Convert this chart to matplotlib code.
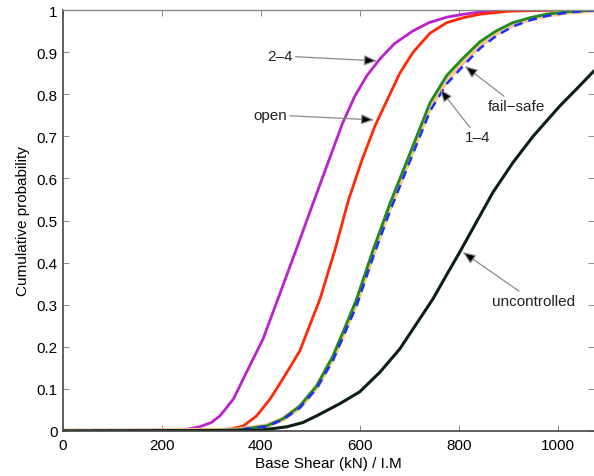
import numpy as np
import matplotlib
matplotlib.use('Agg')
import matplotlib.pyplot as plt

plt.rcParams['font.family'] = ['Liberation Sans', 'DejaVu Sans']

# curvas: x = base shear (kN) / I.M, p = probabilidad acumulada
x_24 = [0, 100, 200, 250, 277, 300, 318, 345, 378, 405, 435, 470, 509, 540, 565, 590, 615, 641,
        670, 707, 740, 776, 810, 843, 900, 1000, 1080]
p_24 = [0, 0.001, 0.002, 0.004, 0.01, 0.02, 0.036, 0.076, 0.155, 0.219, 0.314, 0.425, 0.551,
        0.65, 0.73, 0.795, 0.845, 0.884, 0.92, 0.95, 0.97, 0.983, 0.99, 0.995, 0.999, 1, 1]

x_open = [0, 200, 300, 340, 365, 392, 419, 445, 479, 520, 550, 578, 605, 631, 661, 681, 708,
          742, 776, 810, 843, 900, 1000, 1080]
p_open = [0, 0.001, 0.002, 0.005, 0.012, 0.036, 0.076, 0.124, 0.19, 0.314, 0.43, 0.551, 0.645,
          0.725, 0.80, 0.85, 0.9, 0.945, 0.97, 0.982, 0.99, 0.997, 1, 1]

x_mid = [0, 200, 350, 412, 445, 479, 513, 546, 570, 594, 627, 661, 700, 742, 776, 808, 843,
         875, 909, 945, 978, 1020, 1080]
p_verde = [0, 0.001, 0.002, 0.012, 0.029, 0.059, 0.107, 0.178, 0.245, 0.314, 0.43, 0.54, 0.655,
           0.78, 0.845, 0.885, 0.925, 0.95, 0.97, 0.982, 0.99, 0.996, 1]
p_14 = [0, 0.001, 0.002, 0.012, 0.028, 0.057, 0.104, 0.173, 0.239, 0.306, 0.421, 0.531, 0.646,
        0.77, 0.835, 0.876, 0.917, 0.944, 0.965, 0.979, 0.988, 0.995, 1]
p_failsafe = [0, 0.001, 0.002, 0.011, 0.027, 0.055, 0.101, 0.168, 0.233, 0.299, 0.413, 0.522,
              0.637, 0.76, 0.825, 0.866, 0.909, 0.938, 0.961, 0.976, 0.986, 0.994, 1]

x_unc = [0, 200, 300, 400, 453, 485, 513, 560, 600, 641, 681, 721, 748, 775, 802, 835, 869,
         909, 950, 1004, 1040, 1071, 1080]
p_unc = [0, 0.0005, 0.001, 0.002, 0.01, 0.02, 0.036, 0.065, 0.093, 0.14, 0.195, 0.266, 0.314,
         0.37, 0.425, 0.495, 0.567, 0.637, 0.70, 0.772, 0.815, 0.853, 0.862]

# etiquetas: (texto, posicion del texto, punta de la flecha)
etiquetas = [
    ('2\u20134', (439, 0.891), (635, 0.879)),
    ('open', (419, 0.751), (629, 0.739)),
    ('fail\u2212safe', (917, 0.772), (812, 0.867)),
    ('1\u20134', (838, 0.698), (762, 0.812)),
    ('uncontrolled', (950, 0.309), (808, 0.425)),
]

fig = plt.figure(figsize=(5.94, 4.77), dpi=100)
ax = fig.add_axes([62.5 / 594, 45 / 477, (594 - 62.5) / 594, 421 / 477])

ax.plot(x_24, p_24, color='#bb22cc', lw=2.0)
ax.plot(x_open, p_open, color='#ff2a05', lw=2.0)
ax.plot(x_mid, p_14, color='#f7c48e', lw=3.6)
ax.plot(x_mid, p_verde, color='#1c8c1c', lw=2.0)
ax.plot(x_mid, p_failsafe, color='#1f2cff', lw=1.8, linestyle=(0, (3.5, 2.5)))
ax.plot(x_unc, p_unc, color='#0b1f12', lw=2.2)

for texto, pos, punta in etiquetas:
    ax.annotate(texto, xy=punta, xytext=pos, ha='center', va='center',
                fontsize=11, color='#222222',
                arrowprops=dict(arrowstyle='-|>,head_length=0.7,head_width=0.28',
                                ec='#8a8a8a', fc='black', lw=0.9, shrinkA=0, shrinkB=0))

ax.set_xlim(0, 1073)
ax.set_ylim(0, 1)
ax.set_xticks([0, 200, 400, 600, 800, 1000])
ax.set_yticks(np.arange(0, 1.01, 0.1))
ax.set_yticklabels(['0', '0.1', '0.2', '0.3', '0.4', '0.5', '0.6', '0.7', '0.8', '0.9', '1'])
ax.tick_params(direction='in', top=True, right=True, length=4, width=0.6,
               color='#777777', labelsize=11)
ax.tick_params(axis='x', pad=5)
ax.tick_params(axis='y', pad=3.5)
for lado in ['left', 'bottom']:
    ax.spines[lado].set_color('#444444')
    ax.spines[lado].set_linewidth(1.2)
ax.spines['top'].set_color('#888888')
ax.spines['top'].set_linewidth(1.0)
ax.spines['right'].set_visible(False)

ax.set_xlabel('Base Shear (kN) / I.M', fontsize=11, labelpad=3)
ax.set_ylabel('Cumulative probability', fontsize=11, labelpad=5)

fig.savefig('out.png', dpi=100)
